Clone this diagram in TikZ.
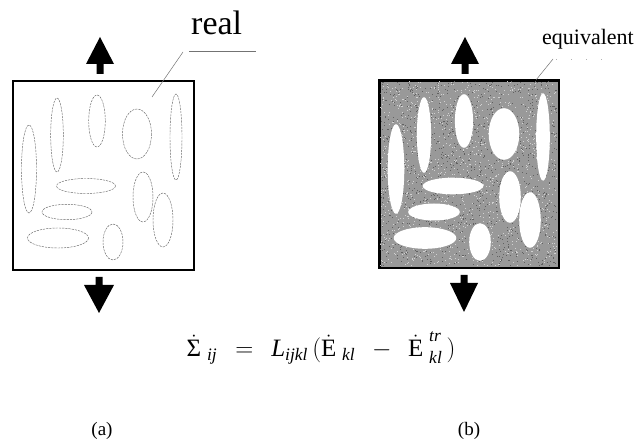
\documentclass[tikz,border=0pt]{standalone}
\usepackage{fix-cm}
\usepackage{amsmath}
\usepackage{fontspec}
\setmainfont{Liberation Serif}
\usetikzlibrary{calc}
\begin{document}
\begin{tikzpicture}[x=1pt,y=-1pt,
  boxline/.style={line width=1.6pt,draw=black},
  incl/.style={draw=black!60,line width=0.45pt,dash pattern=on 2.2pt off 1pt},
  hole/.style={fill=white},
  leader/.style={draw=black!55,line width=0.5pt},
  bigarrow/.style={fill=black},
  lbl/.style={inner sep=0pt}]
\useasboundingbox (0,0) rectangle (635,443);
% ---------------- (a) real ----------------
\node[boxline,minimum width=181pt,minimum height=189pt,anchor=north west,inner sep=0pt] (boxA) at (12,80) {};
\foreach \x/\y/\a/\b in {29/169/7.5/44, 57/135/6.3/37, 97/121/8.3/26, 137/134/14.5/25, 176/137/6/43,
  86/186/29.5/7.5, 67/212/25/7.7, 58/238/30.5/10, 143/197/10/25, 163/220/10/27, 113/242/10/18}
  {\draw[incl] (\x,\y) ellipse [x radius=\a, y radius=\b];}
% ---------------- (b) equivalent ----------------
\node[boxline,fill=black!40,minimum width=179pt,minimum height=187pt,anchor=north west,inner sep=0pt] (boxB) at (379,80) {};
\pgfmathsetseed{11}
\begin{scope}
\clip (380,81) rectangle (557,266);
\foreach \i in {1,...,1400}{
  \pgfmathsetmacro\px{380+177*rnd}\pgfmathsetmacro\py{81+185*rnd}
  \fill[black!62] (\px,\py) rectangle ++(1,1);}
\foreach \i in {1,...,1400}{
  \pgfmathsetmacro\px{380+177*rnd}\pgfmathsetmacro\py{81+185*rnd}
  \fill[black!18] (\px,\py) rectangle ++(1,1);}
\end{scope}
\foreach \x/\y/\a/\b in {29/169/7.5/44, 57/135/6.3/37, 97/121/8.3/26, 137/134/14.5/25, 176/137/6/43,
  86/186/29.5/7.5, 67/212/25/7.7, 58/238/30.5/10, 143/197/10/25, 163/220/10/27, 113/242/10/18}
  {\fill[hole] (\x+367,\y) ellipse [x radius=\a+0.8, y radius=\b+0.8];}
\draw[boxline] (boxB.north west) rectangle (boxB.south east);
% ---------------- arrows ----------------
\coordinate (aTop) at (100,37);
\coordinate (aBot) at (99,313);
\coordinate (bTop) at (465,37);
\coordinate (bBot) at (464,312);
\fill[bigarrow] (aTop) -- ++(14,27) -- ++(-10.5,0) -- ++(0,10) -- ++(-7,0) -- ++(0,-10) -- ++(-10.5,0) -- cycle;
\fill[bigarrow] (bTop) -- ++(14,27) -- ++(-10.5,0) -- ++(0,10) -- ++(-7,0) -- ++(0,-10) -- ++(-10.5,0) -- cycle;
\fill[bigarrow] (aBot) -- ++(15,-28) -- ++(-11.5,0) -- ++(0,-8) -- ++(-7,0) -- ++(0,8) -- ++(-11.5,0) -- cycle;
\fill[bigarrow] (bBot) -- ++(14,-29) -- ++(-10.5,0) -- ++(0,-8) -- ++(-7,0) -- ++(0,8) -- ++(-10.5,0) -- cycle;
% ---------------- labels ----------------
\node[lbl,anchor=base west,font=\fontsize{34}{36}\selectfont] (real) at (191,35) {real};
\coordinate (realA) at (152,97);
\coordinate (realB) at (183,52);
\coordinate (realC) at (189,51);
\coordinate (realD) at (256,51);
\draw[leader] (realA) -- (realB);
\draw[leader] (realC) -- (realD);
\node[lbl,anchor=base west,font=\fontsize{22}{24}\selectfont] (equiv) at (542,45) {equivalent};
\coordinate (eqA) at (536,80);
\coordinate (eqB) at (553,59);
\coordinate (eqC) at (556,59);
\coordinate (eqD) at (606,59);
\draw[leader] (eqA) -- (eqB);
\draw[draw=black!30,line width=0.5pt,dash pattern=on 1pt off 14pt] (eqC) -- (eqD);
% ---------------- equation ----------------
\node[lbl,anchor=base,font=\fontsize{25}{29}\selectfont] (eqn) at (321,357)
  {$\dot{\text{Σ}}_{\,\,\textit{ij}}\;\,=\;\,\textit{L}_{\textit{ijkl}}\,(\dot{\text{E}}_{\,\,\textit{kl}}\;\,-\;\,\dot{\text{E}}^{\,\,\textit{tr}}_{\,\,\textit{kl}}\,)$};
\node[lbl,font=\fontsize{19}{21}\selectfont] (capA) at (102,431) {(a)};
\node[lbl,font=\fontsize{19}{21}\selectfont] (capB) at (469,431) {(b)};
\end{tikzpicture}
\end{document}
